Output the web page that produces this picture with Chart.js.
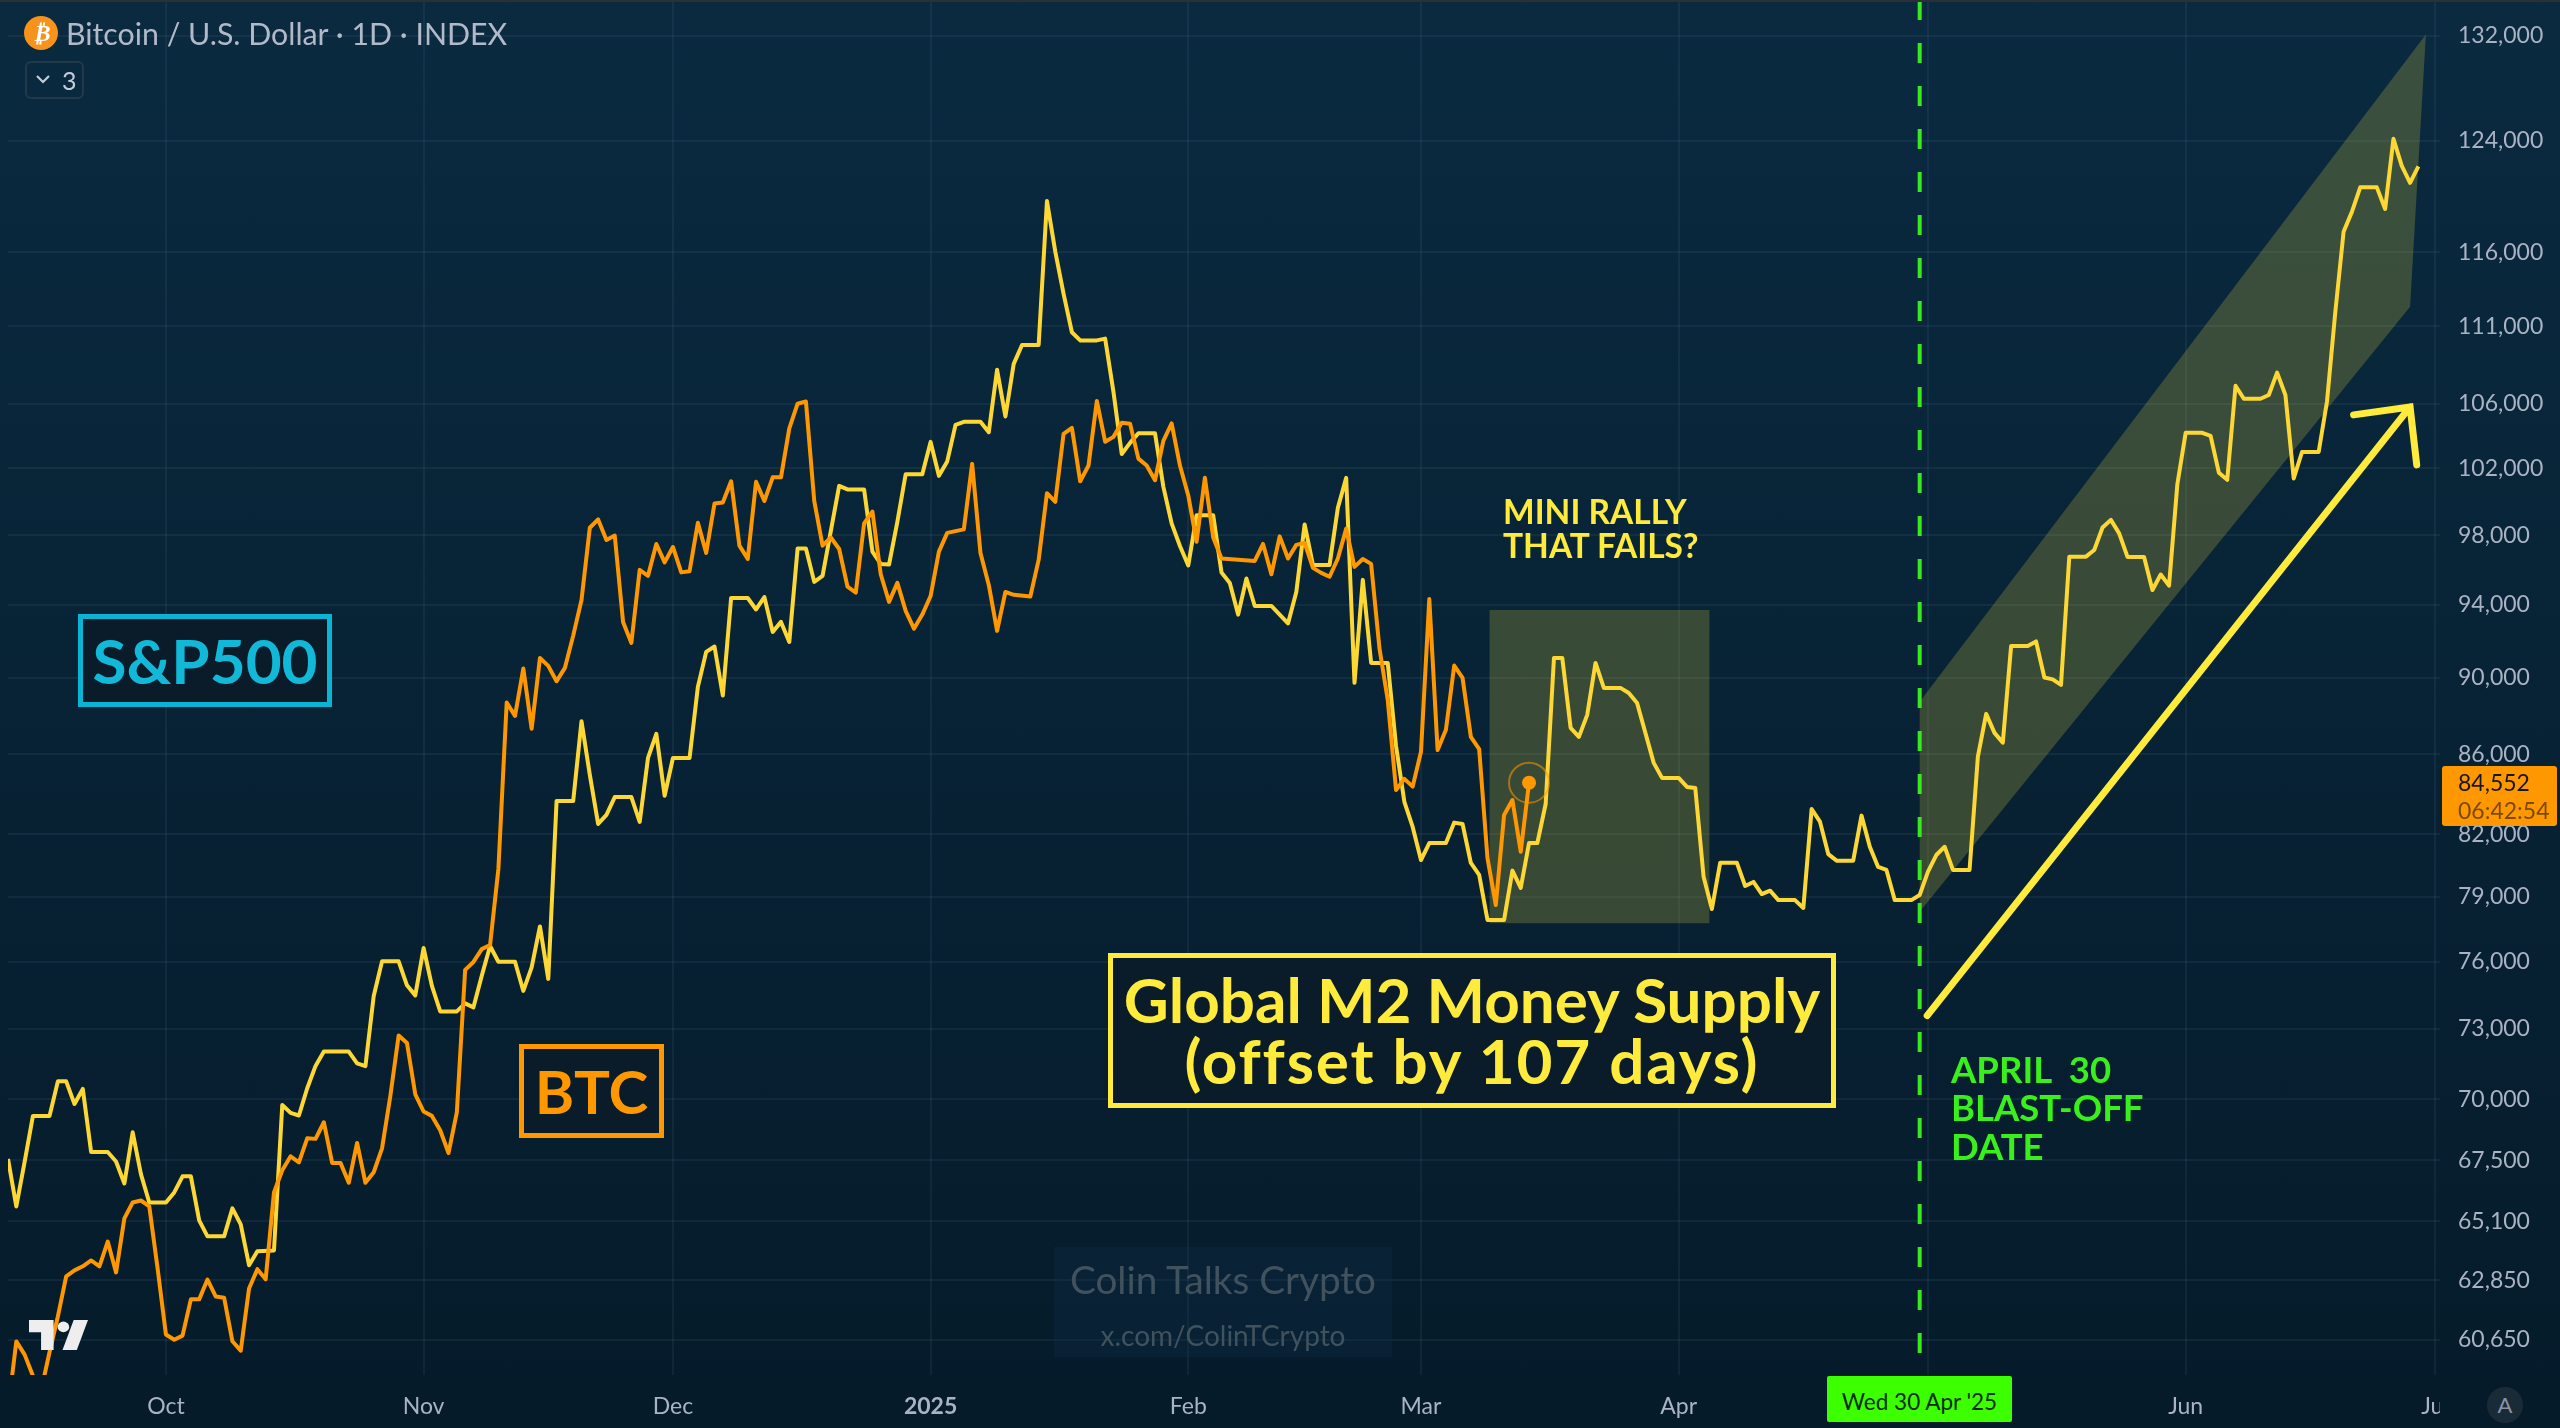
<!DOCTYPE html>
<html>
<head>
<meta charset="utf-8">
<title>Bitcoin vs Global M2</title>
<script src="https://cdn.jsdelivr.net/npm/chart.js@4"></script>
<style>
  html, body { margin: 0; padding: 0; }
  body { width: 2560px; height: 1428px; position: relative; overflow: hidden;
         background: linear-gradient(180deg, #0a2a40 0%, #051b2a 100%); font-family: "Lato", "Noto Sans", sans-serif; }
  canvas { position: absolute; left: 0; top: 0; }
  .lbl { position: absolute; white-space: pre; }
  .box { position: absolute; box-sizing: border-box; background: #0a1b2a; text-align: center; white-space: pre; font-weight: 700; }
  #topline { position: absolute; left: 0; top: 0; width: 2560px; height: 2px; background: #2b2f36; }
</style>
</head>
<body>
<canvas id="grafico" width="2560" height="1428"></canvas>
<div id="topline"></div>

<!-- chart legend -->
<svg style="position:absolute;left:24px;top:16px" width="34" height="34"><circle cx="17" cy="17" r="17" fill="#f7931a"/></svg>
<div class="lbl" style="left:33px;top:17px;width:16px;text-align:center;color:#fff;font:italic 700 24px 'Lato'">₿</div>
<div class="lbl" style="left:66px;top:14px;color:#b2b9c9;font-size:30.3px;line-height:38px">Bitcoin / U.S. Dollar · 1D · INDEX</div>
<div style="position:absolute;left:25px;top:61px;width:59px;height:38px;box-sizing:border-box;border:2px solid #22394a;border-radius:6px"></div>
<svg style="position:absolute;left:35px;top:74px" width="18" height="12"><path d="M2 2 L8 8 L14 2" stroke="#c5ccd8" stroke-width="2.2" fill="none"/></svg>
<div class="lbl" style="left:62px;top:64px;color:#c5ccd8;font-size:25px;line-height:32px">3</div>

<!-- notes on the chart -->
<div class="box" style="left:78px;top:614px;width:254px;height:93px;border:5px solid #0ab4d4;color:#12b8d8;font-size:62px;line-height:82px">S&amp;P500</div>
<div class="box" style="left:519px;top:1044px;width:145px;height:94px;border:5px solid #ff9800;color:#ff9800;font-size:60px;line-height:84px">BTC</div>
<div class="box" style="left:1108px;top:953px;width:728px;height:155px;border:5px solid #ffeb3b;color:#ffeb3b;font-size:62px;line-height:61px;padding-top:11px">Global M2 Money Supply
<span style="letter-spacing:1.9px">(offset by 107 days)</span></div>
<div class="lbl" style="left:1503px;top:494px;color:#ffeb3b;font-size:33.5px;line-height:34px;font-weight:700">MINI RALLY
THAT FAILS?</div>
<div class="lbl" style="left:1951px;top:1050px;color:#39f01c;font-size:36.5px;line-height:38.4px;font-weight:700">APRIL  30
BLAST-OFF
DATE</div>

<!-- watermark -->
<div style="position:absolute;left:1054px;top:1247px;width:338px;height:110px;background:rgba(22,56,86,0.22)"></div>
<div class="lbl" style="left:1054px;width:338px;text-align:center;top:1256px;color:#41525f;font-size:38.7px;line-height:46px">Colin Talks Crypto</div>
<div class="lbl" style="left:1054px;width:338px;text-align:center;top:1318px;color:#41525f;font-size:28px;line-height:34px">x.com/ColinTCrypto</div>

<!-- tradingview mark -->
<svg style="position:absolute;left:29px;top:1320px" width="59" height="30" viewBox="65 1298 132 74" preserveAspectRatio="none">
  <path d="M65 1298 H120 V1372 H92 V1328 H65 Z" fill="#eeeeee"/>
  <circle cx="142" cy="1315" r="13" fill="#eeeeee"/>
  <path d="M165 1298 H197 L172 1372 H140 Z" fill="#eeeeee"/>
</svg>

<!-- axis labels -->
<div style="position:absolute;left:2440px;top:1376px;width:120px;height:52px;background:#051b2a"></div>
<svg style="position:absolute;left:2487px;top:1387px" width="36" height="36"><circle cx="18" cy="18" r="18" fill="#1a2b38"/></svg>
<div class="lbl" style="left:2487px;top:1390px;width:36px;text-align:center;color:#8a93a6;font-size:22px;line-height:30px">A</div>
<div style="position:absolute;left:1827px;top:1376px;width:185px;height:46px;background:#3cff00;border-radius:2px;text-align:center;color:#0b2b16;font-size:22.5px;line-height:52px">Wed 30 Apr '25</div>
<div style="position:absolute;left:2442px;top:766px;width:115px;height:60px;background:#ff9800;border-radius:3px"></div>
<div class="lbl" style="left:2458px;top:766px;color:#131722;font-size:23px;line-height:32px">84,552</div>
<div class="lbl" style="left:2458px;top:794px;color:#7a4a00;font-size:23px;line-height:32px">06:42:54</div>

<script>
// days counted from 1 Oct 2024
var mesesDias = [0, 31, 61, 92, 123, 151, 182, 212, 243, 273];
var mesesNomes = ["Oct", "Nov", "Dec", "2025", "Feb", "Mar", "Apr", "", "Jun", "Jul"];
var precosEixo = [132000, 124000, 116000, 111000, 106000, 102000, 98000, 94000, 90000, 86000, 82000, 79000, 76000, 73000, 70000, 67500, 65100, 62850, 60650];

var btcDias = [-19, -18, -17, -16, -15, -14, -13, -12, -11, -10, -9, -8, -7, -6, -5, -4, -3, -2, -1, 0,
  1, 2, 3, 4, 5, 6, 7, 8, 9, 10, 11, 12, 13, 14, 15, 16, 17, 18, 19, 20,
  21, 22, 23, 24, 25, 26, 27, 28, 29, 30, 31, 32, 33, 34, 35, 36, 37, 38, 39, 40,
  41, 42, 43, 44, 45, 46, 47, 48, 49, 50, 51, 52, 53, 54, 55, 56, 57, 58, 59, 60,
  61, 62, 63, 64, 65, 66, 67, 68, 69, 70, 71, 72, 73, 74, 75, 76, 77, 78, 79, 80,
  81, 82, 83, 84, 85, 86, 87, 88, 89, 90, 91, 92, 93, 94, 96, 97, 98, 99, 100, 101,
  102, 104, 105, 106, 107, 108, 109, 110, 111, 112, 113, 114, 115, 116, 117, 118, 119, 120, 121, 122,
  123, 124, 125, 126, 127, 131, 132, 133, 134, 135, 136, 137, 138, 139, 140, 141, 142, 143, 144, 145,
  146, 147, 148, 149, 150, 151, 152, 153, 154, 155, 156, 157, 158, 159, 160, 161, 162, 163, 164];
var btcPrecos = [58170, 60595, 60119, 59365, 58870, 60215, 61504, 62990, 63215, 63370, 63591, 63370, 64311, 63140, 65209, 65828, 65906, 65673, 63291, 60847,
  60657, 60803, 62133, 62133, 62870, 62238, 62193, 60599, 60260, 62539, 63261, 62885, 66224, 67106, 67665, 67425, 68397, 68373, 69054, 67401,
  67401, 66607, 68208, 66607, 67026, 67986, 70144, 72724, 72396, 70216, 69498, 69317, 68725, 67800, 69465, 75622, 75981, 76566, 76751, 80314,
  88694, 87990, 90511, 87311, 91080, 90651, 89824, 90543, 92302, 94280, 98434, 98923, 97723, 97976, 93061, 91903, 95993, 95650, 97488, 96421,
  97312, 95850, 95913, 98723, 96969, 99863, 99928, 101202, 97388, 96621, 101166, 100016, 101439, 101439, 104440, 105990, 106131, 100028, 97388, 97864,
  97194, 95041, 94704, 98687, 99390, 95742, 94180, 95251, 93671, 92684, 93466, 94508, 97044, 98135, 98341, 102257, 96964, 95137, 92563, 94737,
  94577, 94480, 96564, 100487, 99969, 104103, 104478, 101196, 102154, 106163, 103616, 103916, 104790, 104727, 102578, 102154, 101263, 103666, 104752, 102154,
  100348, 97618, 101408, 97864, 96644, 96507, 97488, 95742, 97929, 96644, 97433, 97547, 96107, 95822, 95599, 96644, 98382, 96164, 96621, 96336,
  91617, 88825, 84187, 84745, 84355, 86129, 94335, 86215, 87259, 90667, 90006, 86894, 86266, 80838, 78603, 82942, 83680, 81139, 84552];

var m2Dias = [-19, -18, -17, -16, -14, -13, -12, -11, -10, -9, -7, -6, -5, -4, -3, -2, 0, 1, 2, 3,
  4, 5, 7, 8, 9, 10, 11, 13, 14, 15, 16, 17, 18, 19, 22, 23, 24, 25, 26, 28,
  29, 30, 31, 32, 33, 35, 36, 37, 38, 39, 40, 42, 43, 44, 45, 46, 47, 49, 50, 51,
  52, 53, 54, 56, 57, 58, 59, 60, 61, 63, 64, 65, 66, 67, 68, 70, 71, 72, 73, 74,
  75, 76, 77, 78, 79, 81, 82, 84, 85, 86, 87, 88, 89, 91, 92, 93, 94, 95, 96, 98,
  99, 100, 101, 102, 103, 105, 106, 107, 108, 109, 110, 112, 113, 114, 115, 116, 117, 119, 120, 121,
  122, 123, 124, 126, 127, 128, 129, 130, 131, 133, 135, 136, 137, 138, 140, 141, 142, 143, 144, 145,
  147, 148, 149, 150, 151, 152, 154, 155, 156, 157, 158, 159, 161, 162, 163, 164, 165, 166, 167, 168,
  169, 170, 171, 172, 173, 175, 176, 177, 179, 180, 182, 183, 184, 185, 186, 187, 189, 190, 191, 192,
  193, 194, 196, 197, 198, 199, 200, 201, 203, 204, 205, 206, 207, 208, 210, 211, 212, 213, 214, 215,
  217, 218, 219, 220, 221, 222, 224, 225, 226, 227, 228, 229, 231, 232, 233, 234, 235, 236, 238, 239,
  240, 241, 242, 243, 245, 246, 247, 248, 249, 250, 252, 253, 254, 255, 256, 257, 259, 260, 261, 262,
  263, 264, 266, 267, 268, 269, 270, 271];
var m2Precos = [67560, 65673, 67441, 69317, 69317, 70758, 70758, 69811, 70440, 67840, 67840, 67457, 66579, 68643, 66942, 65828, 65828, 66224, 66863, 66863,
  65132, 64512, 64512, 65596, 64977, 63411, 63941, 63971, 69770, 69441, 69334, 70470, 71413, 72027, 72027, 71519, 71400, 74455, 76008, 76008,
  74930, 74482, 76613, 74904, 73772, 73772, 74126, 73952, 75353, 76705, 75990, 75990, 74679, 75739, 77608, 75218, 83631, 83631, 87708, 84947,
  82499, 82942, 83832, 83832, 82598, 85809, 87050, 83898, 85809, 85809, 89523, 91413, 91704, 89067, 94394, 94394, 93754, 94451, 92507, 93061,
  91953, 97223, 97223, 95308, 95650, 100923, 100711, 100711, 97044, 96336, 96301, 98781, 101626, 101626, 103604, 101529, 102408, 104665, 104852, 104852,
  104203, 108154, 105189, 108540, 109771, 109771, 119610, 116049, 113160, 110605, 110069, 110069, 110188, 106739, 102863, 103542, 104141, 104141, 100881, 98693,
  97370, 96244, 99164, 99164, 95839, 95251, 93466, 95502, 93948, 93948, 92978, 94737, 98629, 96278, 96278, 99616, 101408, 89738, 95422, 90812,
  90812, 86424, 83596, 82352, 80743, 81564, 81564, 82563, 82499, 80600, 80028, 77909, 77909, 80233, 79407, 81564, 81564, 83483, 91080, 91080,
  87363, 86894, 88042, 90812, 89469, 89469, 89201, 88668, 85556, 84795, 84795, 84339, 84288, 79946, 78418, 80614, 80614, 79503, 79694, 79121,
  79279, 78835, 78835, 78465, 83237, 82612, 81029, 80710, 80710, 82908, 81382, 80409, 80266, 78835, 78835, 79074, 80185, 80982, 81382, 80266,
  80266, 85875, 88094, 87102, 86596, 91732, 91732, 91981, 90023, 89926, 89631, 96752, 96752, 97135, 98446, 98899, 98105, 96735, 96735, 94851,
  95730, 95097, 101020, 104166, 104166, 103978, 101711, 101287, 107125, 106306, 106306, 106546, 107974, 106546, 101372, 102984, 102984, 106113, 111922, 117430,
  118836, 120587, 120587, 119047, 124125, 122144, 120913, 122107];

// drawn notes, in days and prices
var retanguloDias = [159.25, 185.7];
var retanguloPrecos = [93726, 77756];
var canalDias = [211, 271.9, 270, 211];
var canalPrecos = [88736, 132100, 112306, 78293];
var setaDias = [211.9, 270, 263.2, 270.8];
var setaPrecos = [73589, 105788, 105289, 102196];
var dataLancamento = 211;

function juntar(dias, precos) {
  return dias.map(function (d, i) { return { x: d, y: precos[i] }; });
}

// no room kept for half labels at the ends of the axes
function semMargem(s) {
  s.paddingLeft = 0;
  s.paddingRight = 0;
  s.paddingTop = 0;
  s.paddingBottom = 0;
}

var notas = {
  id: "notas",
  beforeDatasetsDraw: function (chart) {
    var c = chart.ctx, x = chart.scales.x, y = chart.scales.y;
    c.save();
    c.fillStyle = "rgba(255,235,59,0.2)";
    c.fillRect(x.getPixelForValue(retanguloDias[0]), y.getPixelForValue(retanguloPrecos[0]),
      x.getPixelForValue(retanguloDias[1]) - x.getPixelForValue(retanguloDias[0]),
      y.getPixelForValue(retanguloPrecos[1]) - y.getPixelForValue(retanguloPrecos[0]));
    c.beginPath();
    canalDias.forEach(function (d, i) {
      c.lineTo(x.getPixelForValue(d), y.getPixelForValue(canalPrecos[i]));
    });
    c.closePath();
    c.fill();
    c.restore();
  },
  afterDatasetsDraw: function (chart) {
    var c = chart.ctx, x = chart.scales.x, y = chart.scales.y, a = chart.chartArea;
    c.save();
    // vertical date line
    var xd = x.getPixelForValue(dataLancamento);
    c.strokeStyle = "#39e81f";
    c.lineWidth = 4;
    c.setLineDash([20, 23]);
    c.beginPath();
    c.moveTo(xd, a.top);
    c.lineTo(xd, a.bottom);
    c.stroke();
    c.setLineDash([]);
    // arrow
    var px = setaDias.map(function (d) { return x.getPixelForValue(d); });
    var py = setaPrecos.map(function (p) { return y.getPixelForValue(p); });
    c.strokeStyle = "#ffeb3b";
    c.lineWidth = 7;
    c.lineCap = "round";
    c.beginPath();
    c.moveTo(px[0], py[0]);
    c.lineTo(px[1], py[1]);
    c.moveTo(px[2], py[2]);
    c.lineTo(px[1], py[1]);
    c.lineTo(px[3], py[3]);
    c.stroke();
    // ring around the last price
    c.strokeStyle = "rgba(255,152,0,0.55)";
    c.lineWidth = 2;
    c.beginPath();
    c.arc(x.getPixelForValue(btcDias[btcDias.length - 1]), y.getPixelForValue(btcPrecos[btcPrecos.length - 1]), 20, 0, Math.PI * 2);
    c.stroke();
    c.restore();
  }
};

new Chart(document.getElementById("grafico"), {
  type: "line",
  plugins: [notas],
  data: {
    datasets: [
      {
        label: "BTC",
        data: juntar(btcDias, btcPrecos),
        borderColor: "#ff9800",
        borderWidth: 4,
        borderJoinStyle: "round",
        backgroundColor: "#ff9800",
        tension: 0,
        pointBorderWidth: 0,
        pointRadius: function (ctx) { return ctx.dataIndex === btcDias.length - 1 ? 7 : 0; }
      },
      {
        label: "Global M2",
        data: juntar(m2Dias, m2Precos),
        borderColor: "#fdd835",
        borderWidth: 4,
        borderJoinStyle: "round",
        tension: 0,
        pointRadius: 0
      }
    ]
  },
  options: {
    responsive: false,
    animation: false,
    devicePixelRatio: 1,
    events: [],
    layout: { autoPadding: false, padding: { left: 8, top: 0, right: 0, bottom: 0 } },
    plugins: { legend: { display: false }, tooltip: { enabled: false }, title: { display: false } },
    scales: {
      x: {
        type: "linear",
        bounds: "data",
        min: -19,
        max: 273.6,
        afterBuildTicks: function (s) { s.ticks = mesesDias.map(function (d) { return { value: d }; }); },
        afterFit: function (s) { s.height = 53; semMargem(s); },
        grid: { color: "rgba(140,180,210,0.08)", lineWidth: 2, tickLength: 0 },
        border: { display: false },
        ticks: {
          autoSkip: false,
          maxRotation: 0,
          padding: 18,
          color: "#aab3c4",
          font: function (ctx) {
            return { family: "Lato", size: 23, weight: ctx.tick && ctx.tick.value === 92 ? "bold" : "normal" };
          },
          callback: function (v) { return mesesNomes[mesesDias.indexOf(v)]; }
        }
      },
      y: {
        type: "logarithmic",
        position: "right",
        bounds: "data",
        min: 59393,
        max: 134840,
        afterBuildTicks: function (s) { s.ticks = precosEixo.map(function (p) { return { value: p }; }); },
        afterFit: function (s) { s.width = 120; semMargem(s); },
        grid: { color: "rgba(140,180,210,0.08)", lineWidth: 2, tickLength: 0 },
        border: { display: false },
        ticks: {
          autoSkip: false,
          padding: 18,
          color: "#aab3c4",
          font: { family: "Lato", size: 23 },
          callback: function (v) { return v.toLocaleString("en-US"); }
        }
      }
    }
  }
});
</script>
</body>
</html>
